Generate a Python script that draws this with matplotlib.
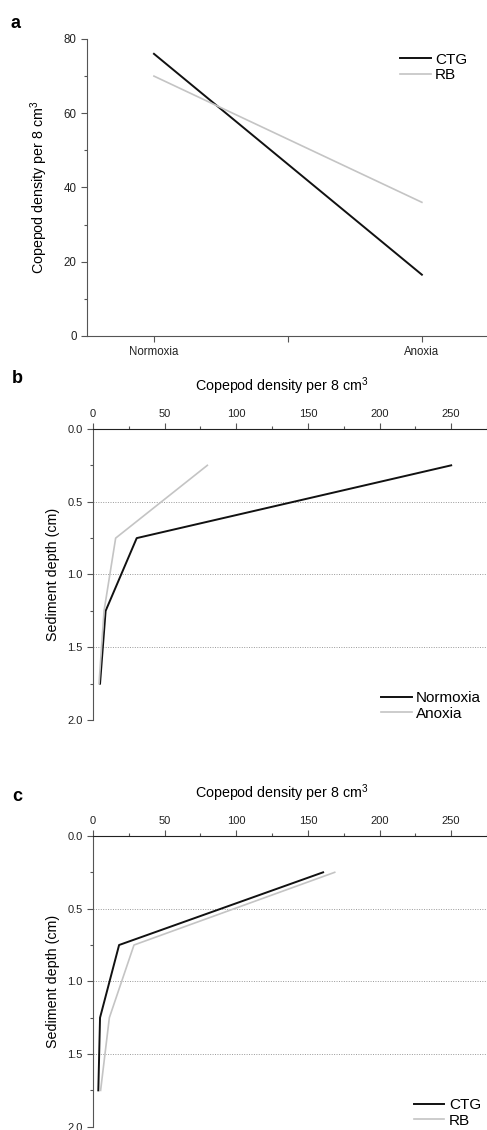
import matplotlib
matplotlib.use("Agg")
import matplotlib.pyplot as plt
from matplotlib.ticker import MultipleLocator, FormatStrFormatter

plt.rcParams["font.family"] = ["Liberation Sans", "DejaVu Sans"]
plt.rcParams["mathtext.fontset"] = "custom"
plt.rcParams["mathtext.rm"] = "Liberation Sans"
plt.rcParams["mathtext.it"] = "Liberation Sans"

# panel a
conditions = ["Normoxia", "Anoxia"]
ctg_a = [76, 16.5]
rb_a = [70, 36]

# panel b / c
depth = [0.25, 0.75, 1.25, 1.75]
normoxia_b = [250, 30.5, 8.8, 4.9]
anoxia_b = [79.8, 15.8, 7.7, 4.2]
ctg_c = [160.6, 18.2, 4.9, 3.7]
rb_c = [168.7, 28.6, 11.4, 5.3]

BLACK = "#111111"
GREY = "#c4c4c4"
AXC = "#555555"
xlab = "Copepod density per 8 cm$^{3}$"

fig = plt.figure(figsize=(4.87, 11.3), dpi=100)

# ---- a
ax = fig.add_axes([0.1786, 0.7027, 0.8214, 0.2628])
x = [0, 1]
ax.plot(x, ctg_a, color=BLACK, lw=1.4, label="CTG")
ax.plot(x, rb_a, color=GREY, lw=1.2, label="RB")
ax.set_xlim(-0.25, 1.243)
ax.set_ylim(0, 80)
ax.set_xticks([0, 0.5, 1])
ax.set_xticklabels([conditions[0], "", conditions[1]])
ax.yaxis.set_major_locator(MultipleLocator(20))
ax.yaxis.set_minor_locator(MultipleLocator(10))
for s in ["top", "right"]:
    ax.spines[s].set_visible(False)
for s in ["left", "bottom"]:
    ax.spines[s].set_color(AXC)
ax.tick_params(which="both", colors=AXC, labelcolor="#222222", labelsize=8.3, width=0.8)
ax.tick_params(which="major", length=4)
ax.tick_params(which="minor", length=2.5)
ax.set_ylabel(xlab, fontsize=10.3, labelpad=10)
ax.legend(loc="upper right", bbox_to_anchor=(0.985, 1.0), frameon=False, fontsize=11,
          handlelength=2.0, handletextpad=0.3, labelspacing=0.1)
fig.text(0.022, 0.979, "a", fontsize=13, fontweight="bold", va="center")


def depth_panel(rect, s1, s2, labels, letter, ly):
    ax = fig.add_axes(rect)
    ax.plot(s1, depth, color=BLACK, lw=1.4, label=labels[0])
    ax.plot(s2, depth, color=GREY, lw=1.2, label=labels[1])
    ax.set_xlim(0, 275)
    ax.set_ylim(2.0, 0.0)
    ax.xaxis.tick_top()
    ax.xaxis.set_label_position("top")
    ax.xaxis.set_major_locator(MultipleLocator(50))
    ax.xaxis.set_minor_locator(MultipleLocator(25))
    ax.yaxis.set_major_locator(MultipleLocator(0.5))
    ax.yaxis.set_minor_locator(MultipleLocator(0.25))
    ax.yaxis.set_major_formatter(FormatStrFormatter("%.1f"))
    for s in ["bottom", "right"]:
        ax.spines[s].set_visible(False)
    ax.spines["left"].set_color(AXC)
    ax.spines["top"].set_color("#222222")
    ax.tick_params(which="both", colors=AXC, labelcolor="#222222", labelsize=8, width=0.8)
    ax.tick_params(which="major", length=4)
    ax.tick_params(which="minor", length=2.5)
    for d in [0.5, 1.0, 1.5]:
        ax.axhline(d, color="#999999", lw=0.7, ls=(0, (1, 1.5)), zorder=0)
    ax.set_xlabel(xlab, fontsize=10.3, labelpad=10)
    ax.xaxis.set_label_coords(0.48, 1.0)
    ax.xaxis.label.set_va("bottom")
    ax.set_ylabel("Sediment depth (cm)", fontsize=10.3, labelpad=5)
    ax.legend(loc="lower right", bbox_to_anchor=(1.02, -0.05), frameon=False, fontsize=11,
              handlelength=2.0, handletextpad=0.3, labelspacing=0.1)
    fig.text(0.025, ly, letter, fontsize=13, fontweight="bold", va="center")
    return ax


axb = depth_panel([0.191, 0.3628, 0.809, 0.2576], normoxia_b, anoxia_b, ["Normoxia", "Anoxia"], "b", 0.665)
axc = depth_panel([0.191, 0.0029, 0.809, 0.2573], ctg_c, rb_c, ["CTG", "RB"], "c", 0.295)

fig.canvas.draw()
# push the top xlabel above the tick labels
for a in (axb, axc):
    a.xaxis.set_label_coords(0.48, 1.11)

fig.savefig("out.png", dpi=100)
